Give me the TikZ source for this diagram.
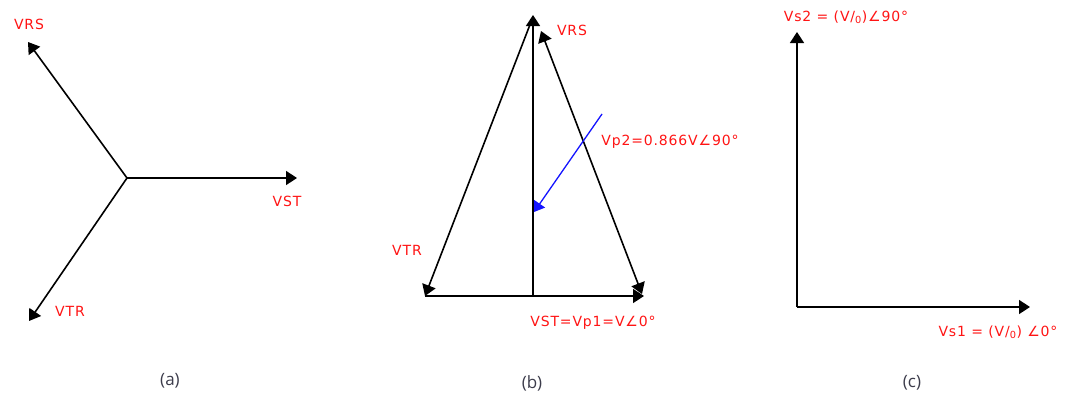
\documentclass[tikz,border=0pt]{standalone}
\usepackage{fontspec}
\usetikzlibrary{arrows.meta,positioning}
\newfontfamily\labelfont[LetterSpace=6]{DejaVu Sans}
\newfontfamily\capfont{Open Sans}
\definecolor{labelred}{RGB}{255,20,20}
\definecolor{capgray}{RGB}{60,60,75}
\definecolor{phasorblue}{RGB}{20,20,255}
\tikzset{
    phasor/.style={line width=1.6pt, -{Triangle[length=11pt,width=14pt]}},
    bothphasor/.style={line width=1.6pt, {Triangle[length=11pt,width=14pt]}-{Triangle[length=11pt,width=14pt]}},
    bluephasor/.style={line width=1.3pt, color=phasorblue, -{Triangle[length=10pt,width=13pt]}},
    vlabel/.style={font=\labelfont\fontsize{14}{16}\selectfont, text=labelred, inner sep=1pt},
    caption/.style={font=\capfont\fontsize{17}{19}\selectfont, text=capgray}
}
\begin{document}
\begin{tikzpicture}[x=1pt,y=-1pt]
\useasboundingbox (0,0) rectangle (1074,397);

% Panel (a): star
\coordinate (a-o) at (127,178);
\coordinate (a-rs) at (28,42);
\coordinate (a-st) at (297,178);
\coordinate (a-tr) at (29,321);
\draw[phasor] (a-o) -- (a-rs);
\draw[phasor] (a-o) -- (a-st);
\draw[phasor] (a-o) -- (a-tr);
\node[vlabel] (a-rs-lbl) at (29,24) {VRS};
\node[vlabel] (a-st-lbl) at (287,201) {VST};
\node[vlabel] (a-tr-lbl) at (70,311) {VTR};
\node[caption] (a-cap) at (170,381) {(a)};

% Panel (b): triangle
\coordinate (b-top) at (533,15);
\coordinate (b-topl) at (531,22);
\coordinate (b-topr) at (541,31);
\coordinate (b-bl) at (425,296);
\coordinate (b-br) at (644,296);
\coordinate (b-brd) at (642,294);
\coordinate (b-mid) at (533,296);
\coordinate (b-bluestart) at (602,114);
\coordinate (b-blueend) at (534,212);
\draw[phasor] (b-topl) -- (b-bl);
\draw[phasor] (b-mid) -- (b-top);
\draw[bothphasor] (b-topr) -- (b-brd);
\draw[phasor] (b-bl) -- (b-br);
\draw[bluephasor] (b-bluestart) -- (b-blueend);
\node[vlabel] (b-rs-lbl) at (572,30) {VRS};
\node[vlabel] (b-tr-lbl) at (407,250) {VTR};
\node[vlabel] (b-st-lbl) at (593,323) {VST=Vp1=V∠0°};
\node[vlabel] (b-p2-lbl) at (670,142) {Vp2=0.866V∠90°};
\node[caption] (b-cap) at (532,383) {(b)};

% Panel (c): right angle
\coordinate (c-o) at (797,307);
\coordinate (c-up) at (797,32);
\coordinate (c-right) at (1030,307);
\draw[phasor] (c-o) -- (c-up);
\draw[phasor] (c-o) -- (c-right);
\node[vlabel] (c-s2-lbl) at (846,17) {Vs2 = (V/\textsubscript{0})∠90°};
\node[vlabel] (c-s1-lbl) at (998,332) {Vs1 = (V/\textsubscript{0}) ∠0°};
\node[caption] (c-cap) at (912,383) {(c)};

\end{tikzpicture}
\end{document}
